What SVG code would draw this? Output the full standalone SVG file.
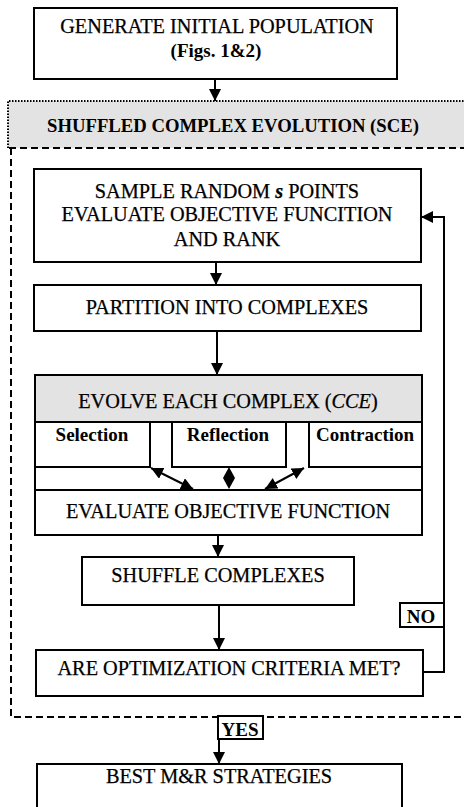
<svg xmlns="http://www.w3.org/2000/svg" width="464" height="807" viewBox="0 0 464 807">
<defs>
<marker id="ah" viewBox="0 0 12 12" refX="12" refY="6" markerWidth="12" markerHeight="12" markerUnits="userSpaceOnUse" orient="auto-start-reverse">
<path d="M0,0 L12,6 L0,12 Z" fill="#000"/>
</marker>
<marker id="ahs" viewBox="0 0 12 12" refX="12" refY="6" markerWidth="12" markerHeight="12" markerUnits="userSpaceOnUse" orient="auto-start-reverse">
<path d="M0,0 L12,6 L0,12 Z" fill="#000"/>
</marker>
</defs>
<style>
text{font-family:"Liberation Serif","Times New Roman","DejaVu Serif",serif;fill:#000;stroke:#000;stroke-width:0.25;text-anchor:middle;font-size:20.3px}
text.b{font-weight:bold;stroke:none;font-size:19px}
text.sce{font-size:18.7px}
.box{fill:#fff;stroke:#000;stroke-width:2}
.shade{fill:#e3e3e3}
.ln{fill:none;stroke:#000;stroke-width:2}
.dash{fill:none;stroke:#000;stroke-width:2;stroke-dasharray:7 4}
.dot{fill:none;stroke:#000;stroke-width:2;stroke-dasharray:1.5 1.5}
</style>
<rect width="464" height="807" fill="#fff"/>

<g id="sce-frame">
<rect class="shade" x="8" y="101" width="460" height="47"/>
<path class="dot" d="M8,148 V101 H464"/>
<path class="dash" d="M9,148 H464"/>
<path class="dash" d="M11,148 V717 H464"/>
<text class="b sce" x="233" y="132">SHUFFLED COMPLEX EVOLUTION (SCE)</text>
</g>

<g id="generate">
<rect class="box" x="34" y="8" width="363" height="71"/>
<text x="217" y="33">GENERATE INITIAL POPULATION</text>
<text class="b" x="216" y="57">(Figs. 1&amp;2)</text>
</g>

<g id="sample">
<rect class="box" x="34" y="169" width="387" height="93"/>
<text x="227" y="198">SAMPLE RANDOM <tspan font-style="italic" font-weight="bold">s</tspan>  POINTS</text>
<text x="227" y="221">EVALUATE OBJECTIVE FUNCITION</text>
<text x="227" y="246">AND RANK</text>
</g>

<g id="partition">
<rect class="box" x="34" y="285" width="387" height="46"/>
<text x="227" y="314">PARTITION INTO COMPLEXES</text>
</g>

<g id="evolve">
<rect class="box" x="35" y="375" width="387" height="115"/>
<rect class="shade" x="36" y="376" width="385" height="46"/>
<path class="ln" d="M35,422 H422"/>
<text x="228" y="408">EVOLVE EACH COMPLEX (<tspan font-style="italic">CCE</tspan>)</text>
</g>

<g id="selection">
<path class="ln" d="M35,467 H150 V422"/>
<text class="b" x="92" y="441">Selection</text>
</g>

<g id="reflection">
<path class="ln" d="M172,422 V467 H286 V422"/>
<text class="b" x="228" y="441">Reflection</text>
</g>

<g id="contraction">
<path class="ln" d="M309,422 V467 H422"/>
<text class="b" x="365" y="441">Contraction</text>
</g>

<g id="evaluate">
<rect class="box" x="35" y="490" width="387" height="45"/>
<text x="228" y="518">EVALUATE OBJECTIVE FUNCTION</text>
</g>

<g id="shuffle">
<rect class="box" x="82" y="557" width="272" height="48"/>
<text x="218" y="582">SHUFFLE COMPLEXES</text>
</g>

<g id="criteria">
<rect class="box" x="36" y="650" width="387" height="46"/>
<text x="229" y="675">ARE OPTIMIZATION CRITERIA MET?</text>
</g>

<g id="best">
<rect class="box" x="37" y="764" width="365" height="60"/>
<text x="219" y="783">BEST M&amp;R STRATEGIES</text>
</g>

<g id="connectors">
<line class="ln" x1="215" y1="79" x2="215" y2="101" marker-end="url(#ah)"/>
<line class="ln" x1="216" y1="262" x2="216" y2="285" marker-end="url(#ah)"/>
<line class="ln" x1="217" y1="331" x2="217" y2="375" marker-end="url(#ah)"/>
<line class="ln" x1="151" y1="468" x2="193" y2="489" marker-start="url(#ahs)" marker-end="url(#ahs)"/>
<polygon points="229,467 235,478 229,489 223,478" fill="#000"/>
<line class="ln" x1="304" y1="468" x2="265" y2="489" marker-start="url(#ahs)" marker-end="url(#ahs)"/>
<line class="ln" x1="218" y1="535" x2="218" y2="557" marker-end="url(#ah)"/>
<line class="ln" x1="219" y1="605" x2="219" y2="650" marker-end="url(#ah)"/>
<polyline class="ln" points="423,672 444,672 444,217 421,217" marker-end="url(#ah)"/>
<line class="ln" x1="219" y1="717" x2="219" y2="764" marker-end="url(#ah)"/>
<g id="no-label">
<rect class="box" x="400" y="603" width="44" height="24"/>
<text class="b" x="421" y="623">NO</text>
</g>
<g id="yes-label">
<rect class="box" x="218" y="716" width="45" height="23"/>
<text class="b" x="240" y="736">YES</text>
</g>
</g>
</svg>
